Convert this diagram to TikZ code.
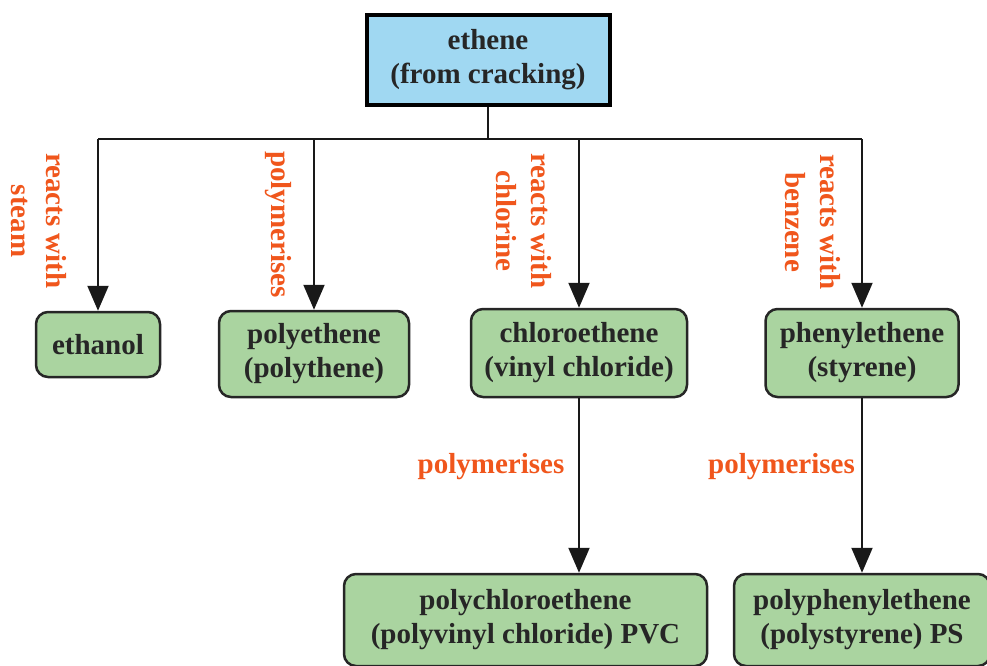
\documentclass[tikz,border=0pt]{standalone}
\usepackage{fontspec}
\setmainfont{Liberation Serif}
\usetikzlibrary{arrows.meta}
\definecolor{boxgreen}{RGB}{170,212,160}
\definecolor{boxblue}{RGB}{160,216,242}
\definecolor{steporange}{RGB}{240,86,28}
\tikzset{
  boxtext/.style={font=\fontsize{29}{34}\selectfont\bfseries, text=black!85, align=center},
  product/.style={boxtext, draw=black!85, line width=2.5pt, rounded corners=12pt,
                  fill=boxgreen, inner sep=0pt},
  source/.style={boxtext, draw=black, line width=4pt, fill=boxblue, inner sep=0pt},
  steplabel/.style={font=\fontsize{29}{35}\selectfont\bfseries, text=steporange, align=center},
  link/.style={draw=black!90, line width=2pt},
  arrowlink/.style={link, -{Triangle[length=25pt,width=21pt]}},
}

\begin{document}
\begin{tikzpicture}[
  x=1pt,
  y=-1pt,
]
\useasboundingbox (0,0) rectangle (987,666);

\node [source, minimum width=243, minimum height=90, name=ethene] at (488,60)
      {ethene\\(from cracking)};

\node [product, minimum width=124, minimum height=65, name=ethanol] at (98,344.5) {ethanol};
\node [product, minimum width=190, minimum height=86, name=polyethene] at (314,354)
      {polyethene\\(polythene)};
\node [product, minimum width=216, minimum height=88, name=chloro] at (579,353)
      {chloroethene\\(vinyl chloride)};
\node [product, minimum width=193, minimum height=88, name=phenyl] at (862,353)
      {phenylethene\\(styrene)};
\node [product, minimum width=363, minimum height=92, name=pvc] at (525.5,620)
      {polychloroethene\\(polyvinyl chloride) PVC};
\node [product, minimum width=256, minimum height=92, name=ps] at (862,620)
      {polyphenylethene\\(polystyrene) PS};

\draw [link] (ethene.south) -- ++(0,32) coordinate (hub);
\draw [link] (hub -| ethanol.north) -- (hub -| phenyl.north);
\foreach \n in {ethanol,polyethene,chloro,phenyl}
  \draw [arrowlink] (hub -| \n.north) -- (\n.north);

\draw [arrowlink] (chloro.south) -- (chloro.south |- pvc.north);
\draw [arrowlink] (phenyl.south) -- (phenyl.south |- ps.north);

\node [steplabel, rotate=-90, name=l-steam] at (38.5,221) {reacts with\\steam};
\node [steplabel, rotate=-90, name=l-poly] at (278,224.5) {polymerises};
\node [steplabel, rotate=-90, name=l-chlorine] at (524,221) {reacts with\\chlorine};
\node [steplabel, rotate=-90, name=l-benzene] at (813,222) {reacts with\\benzene};
\node [steplabel, name=l-pvc] at (491,467) {polymerises};
\node [steplabel, name=l-ps] at (781.5,467) {polymerises};

\end{tikzpicture}
\end{document}
